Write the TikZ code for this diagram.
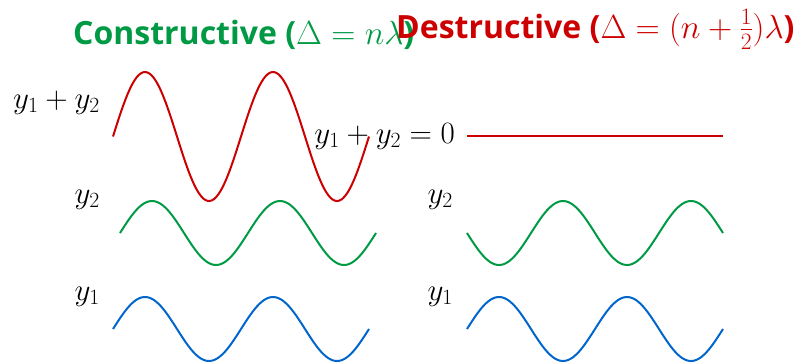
\RequirePackage{fix-cm}
\documentclass[tikz,border=0pt]{standalone}
\usepackage{fontspec}
\newfontfamily\titlefont{Open Sans}
\definecolor{cgreen}{RGB}{0,153,68}
\definecolor{cred}{RGB}{204,0,0}
\definecolor{cblue}{RGB}{0,102,204}
\newcommand{\tmath}[1]{{\fontsize{33.5}{40}\selectfont$#1$}}
\tikzset{
  wave/.style={line width=2pt, samples=120, smooth},
  lbl/.style={anchor=base east, inner sep=0pt, font=\fontsize{31}{37}\selectfont},
  ttl/.style={anchor=base west, inner sep=0pt, font=\titlefont\bfseries\fontsize{32}{38}\selectfont},
}
\begin{document}
\begin{tikzpicture}[x=1pt,y=-1pt]
\useasboundingbox (0,0) rectangle (797,362);
% constructive waves
\draw[wave, cred] plot[domain=113:369] (\x,{136.5-64.5*sin(2.8125*(\x-113))});
\draw[wave, cgreen] plot[domain=120:376] (\x,{233-32*sin(2.8125*(\x-120))});
\draw[wave, cblue] plot[domain=113:369] (\x,{329-32*sin(2.8125*(\x-113))});
% destructive waves
\coordinate (ls) at (467,136);
\coordinate (le) at (723,136);
\draw[line width=2pt, cred] (ls) -- (le);
\draw[wave, cgreen] plot[domain=467:723] (\x,{233+32*sin(2.8125*(\x-467))});
\draw[wave, cblue] plot[domain=467:723] (\x,{329-32*sin(2.8125*(\x-467))});
% labels
\node[lbl] (csum) at (100,108) {$y_1+y_2$};
\node[lbl] (cy2) at (100,203) {$y_2$};
\node[lbl] (cy1) at (100,300) {$y_1$};
\node[lbl] (dsum) at (455,143) {$y_1+y_2=0$};
\node[lbl] (dy2) at (453,203) {$y_2$};
\node[lbl] (dy1) at (453,300) {$y_1$};
% titles
\node[ttl, text=cgreen] (ctitle) at (73,44) {Constructive (\tmath{\Delta = n\lambda})};
\node[ttl, text=cred] (dtitle) at (396,38) {Destructive (\tmath{\Delta = (n+\frac{1}{2})\lambda})};
\end{tikzpicture}
\end{document}
